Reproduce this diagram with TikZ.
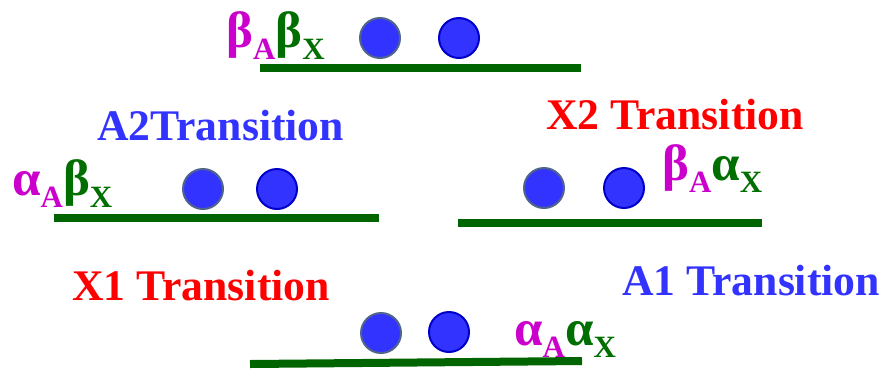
\documentclass[tikz,border=0pt]{standalone}
\usepackage{fontspec}
\setmainfont{Liberation Serif}
\definecolor{mag}{RGB}{204,0,204}
\definecolor{grn}{RGB}{0,110,0}
\definecolor{surf}{RGB}{0,100,0}
\definecolor{tblue}{RGB}{51,51,255}
\definecolor{tred}{RGB}{255,0,0}
\definecolor{atom}{RGB}{51,51,255}
\definecolor{rimA}{RGB}{80,100,140}
\definecolor{rimB}{RGB}{0,0,200}
\newcommand\subsc[2]{{\color{#1}\raisebox{-12pt}{\fontsize{31}{31}\selectfont\bfseries #2}}}
\tikzset{
  trans/.style={font=\fontsize{43.7}{44}\selectfont\bfseries, anchor=base west, inner sep=0pt},
  surface/.style={draw=surf, line width=8pt},
  atomA/.style={circle, fill=atom, draw=rimA, line width=2pt, minimum size=40pt, inner sep=0pt},
  atomB/.style={circle, fill=atom, draw=rimB, line width=2pt, minimum size=40pt, inner sep=0pt},
  lbl/.style={anchor=base west, inner sep=0pt, font=\fontsize{51}{51}\selectfont\bfseries}
}
\begin{document}
\begin{tikzpicture}[x=1pt,y=-1pt]
\useasboundingbox (0,0) rectangle (888,368);
% top state
\draw[surface] (260,68) coordinate (t1) -- (581,68) coordinate (t2);
\node[atomA] (ta) at (380,38) {};
\node[atomB] (tb) at (459,38) {};
\node[lbl] (tl) at (226,47) {\textcolor{mag}{β}\subsc{mag}{A}\textcolor{grn}{β}\subsc{grn}{X}};
% left state
\draw[surface] (54,218) coordinate (l1) -- (379,218) coordinate (l2);
\node[atomA] (la) at (203,189) {};
\node[atomB] (lb) at (277,189) {};
\node[lbl] (ll) at (12,195) {\textcolor{mag}{α}\subsc{mag}{A}\textcolor{grn}{β}\subsc{grn}{X}};
\node[trans, text=tblue] (a2) at (97,140) {A2Transition};
% right state
\draw[surface] (458,223) coordinate (r1) -- (762,223) coordinate (r2);
\node[atomA] (ra) at (544,188) {};
\node[atomB] (rb) at (624,188) {};
\node[lbl] (rl) at (662,180) {\textcolor{mag}{β}\subsc{mag}{A}\textcolor{grn}{α}\subsc{grn}{X}};
\node[trans, text=tred] (x2) at (546,129) {X2 Transition};
% bottom state
\draw[surface] (250,364) coordinate (b1) -- (582,361) coordinate (b2);
\node[atomA] (ba) at (381,333) {};
\node[atomB] (bb) at (449,332) {};
\node[lbl] (bl) at (514,345) {\textcolor{mag}{α}\subsc{mag}{A}\textcolor{grn}{α}\subsc{grn}{X}};
\node[trans, text=tred] (x1) at (72,300) {X1 Transition};
\node[trans, text=tblue] (a1) at (622,295) {A1 Transition};
\end{tikzpicture}
\end{document}
